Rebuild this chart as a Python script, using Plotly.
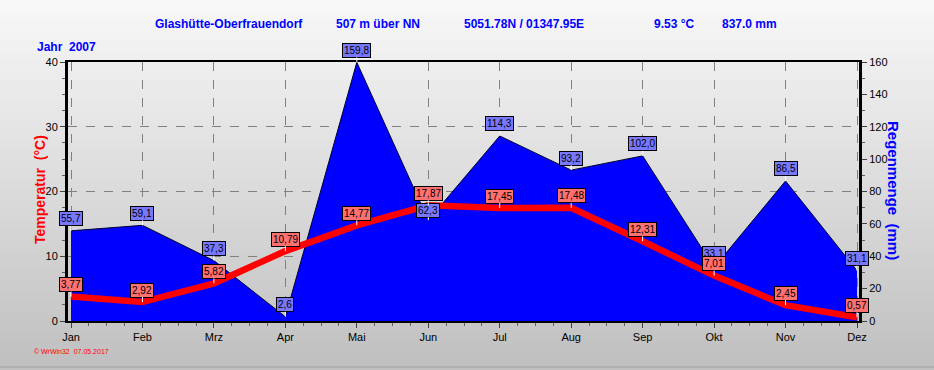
import plotly.graph_objects as go

months = ["Jan", "Feb", "Mrz", "Apr", "Mai", "Jun", "Jul", "Aug", "Sep", "Okt", "Nov", "Dez"]
temperature = [3.77, 2.92, 5.82, 10.79, 14.77, 17.87, 17.45, 17.48, 12.31, 7.01, 2.45, 0.57]
rain = [55.7, 59.1, 37.3, 2.6, 159.8, 62.3, 114.3, 93.2, 102.0, 33.1, 86.5, 31.1]
temp_labels = ["3,77", "2,92", "5,82", "10,79", "14,77", "17,87", "17,45", "17,48", "12,31", "7,01", "2,45", "0,57"]
rain_labels = ["55,7", "59,1", "37,3", "2,6", "159,8", "62,3", "114,3", "93,2", "102,0", "33,1", "86,5", "31,1"]
rain_offsets = [-12, -12, -12, -12, -12, -10, -12, -12, -12, -14, -12, -12]

W, H = 934, 370
L, R, T, B = 68, 859, 62, 321

def px(x):
    return (x - L) / (R - L)

def py(y):
    return (B - y) / (B - T)

xs = list(range(len(months)))

fig = go.Figure()
# rain on main axis (drawn below), temperature on overlaying axis (drawn above)
fig.add_trace(go.Scatter(x=xs, y=rain, yaxis="y", mode="lines", fill="tozeroy",
                         fillcolor="#0000ff", line=dict(color="#000033", width=1),
                         hoverinfo="skip", showlegend=False))
fig.add_trace(go.Scatter(x=xs, y=temperature, yaxis="y2", mode="lines",
                         line=dict(color="#ff0000", width=6.5), hoverinfo="skip", showlegend=False))

shapes = []
# background gradient
n = 74
for i in range(n):
    y0 = i * H / n
    y1 = (i + 1) * H / n + 0.5
    t = i / (n - 1)
    c = int(248 - t * 56)
    shapes.append(dict(type="rect", xref="paper", yref="paper", x0=px(0), x1=px(W),
                       y0=py(y1), y1=py(y0), fillcolor=f"rgb({c},{c},{c})",
                       line=dict(width=0), layer="below"))
shapes.append(dict(type="line", xref="paper", yref="paper", x0=px(0), x1=px(W),
                   y0=py(367), y1=py(367), line=dict(color="#a0a0a0", width=1), layer="below"))

annotations = []
lab_font = dict(family="Liberation Sans, Arial", size=10, color="black")
for i in xs:
    annotations.append(dict(x=i, y=rain[i], xref="x", yref="y", text=rain_labels[i],
                            showarrow=True, arrowhead=0, arrowcolor="white", arrowwidth=1,
                            ax=0, ay=rain_offsets[i], standoff=0, font=lab_font,
                            bgcolor="#7878ff", bordercolor="black", borderwidth=1, borderpad=1))
for i in xs:
    annotations.append(dict(x=i, y=temperature[i], xref="x", yref="y2", text=temp_labels[i],
                            showarrow=True, arrowhead=0, arrowcolor="white", arrowwidth=1,
                            ax=0, ay=-12, standoff=0, font=lab_font,
                            bgcolor="#ff7070", bordercolor="black", borderwidth=1, borderpad=1))

title_font = dict(family="Liberation Sans Narrow, Liberation Sans, Arial", size=12, color="#0000ff")
for txt, x in [("<b>Glashütte-Oberfrauendorf</b>", 153), ("<b>507 m über NN</b>", 334),
               ("<b>5051.78N / 01347.95E</b>", 462), ("<b>9.53 °C</b>", 652), ("<b>837.0 mm</b>", 720)]:
    annotations.append(dict(x=px(x), y=py(24), xref="paper", yref="paper", text=txt,
                            showarrow=False, xanchor="left", yanchor="middle", font=title_font))
annotations.append(dict(x=px(35), y=py(47), xref="paper", yref="paper", text="<b>Jahr  2007</b>",
                        showarrow=False, xanchor="left", yanchor="middle", font=title_font))
annotations.append(dict(x=px(40), y=py(190), xref="paper", yref="paper", text="<b>Temperatur  (°C)</b>",
                        showarrow=False, textangle=-90, xanchor="center", yanchor="middle",
                        font=dict(family="Liberation Sans, Arial", size=14, color="#ff0000")))
annotations.append(dict(x=px(894), y=py(190), xref="paper", yref="paper", text="<b>Regenmenge  (mm)</b>",
                        showarrow=False, textangle=90, xanchor="center", yanchor="middle",
                        font=dict(family="Liberation Sans, Arial", size=15, color="#0000ff")))
annotations.append(dict(x=px(32), y=py(351), xref="paper", yref="paper", text="© WrWin32  07.05.2017",
                        showarrow=False, xanchor="left", yanchor="middle",
                        font=dict(family="Liberation Sans, Arial", size=7, color="#ff0000")))

tick_font = dict(family="Liberation Sans, Arial", size=11, color="black")
fig.update_layout(
    width=W, height=H, autosize=False,
    margin=dict(l=L, r=W - R, t=T, b=H - B, pad=0),
    paper_bgcolor="#dcdcdc", plot_bgcolor="rgba(0,0,0,0)",
    showlegend=False,
    xaxis=dict(range=[-0.042, 11.028], tickvals=xs, ticktext=months, tickfont=tick_font,
               showgrid=True, gridcolor="#808080", griddash="dash", gridwidth=1,
               showline=True, linecolor="black", linewidth=2, mirror=True,
               ticks="outside", ticklen=5, tickcolor="#404040", zeroline=False,
               minor=dict(dtick=0.25, ticks="outside", ticklen=3, tickcolor="#606060", showgrid=False)),
    yaxis=dict(range=[0, 160], side="right", dtick=20, tickfont=tick_font, showgrid=False,
               zeroline=False, showline=True, linecolor="black", linewidth=3,
               ticks="outside", ticklen=5, tickcolor="#404040",
               minor=dict(dtick=10, ticks="outside", ticklen=3, tickcolor="#606060")),
    yaxis2=dict(range=[0, 40], side="left", overlaying="y", dtick=10, tickfont=tick_font,
                showgrid=True, gridcolor="#808080", griddash="dash", gridwidth=1,
                zeroline=False, showline=True, linecolor="black", linewidth=3,
                ticks="outside", ticklen=5, tickcolor="#404040",
                minor=dict(dtick=2.5, ticks="outside", ticklen=3, tickcolor="#606060")),
    shapes=shapes,
    annotations=annotations,
)

fig.write_html("out.html", config={"displayModeBar": False, "staticPlot": True},
               post_script="document.body.style.margin='0';document.body.style.overflow='hidden';")
